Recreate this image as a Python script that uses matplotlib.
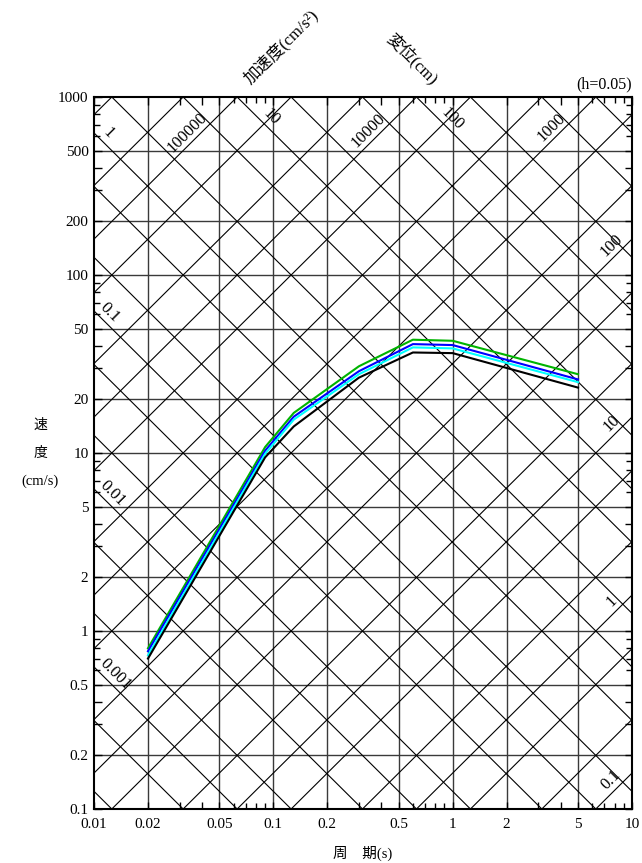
import numpy as np
import matplotlib
matplotlib.use("Agg")
import matplotlib.pyplot as plt
from matplotlib.ticker import FixedLocator, FixedFormatter

plt.rcParams['font.family'] = ['Liberation Serif', 'Noto Sans CJK JP']
plt.rcParams['axes.unicode_minus'] = False

# ---------------- data ----------------
periods = [0.02, 0.09, 0.13, 0.3, 0.6, 1.0, 5.0]
vel_green = [0.80, 10.8, 16.8, 30.7, 43.3, 42.7, 27.7]
vel_blue = [0.77, 10.3, 16.0, 28.8, 40.9, 40.4, 25.9]
vel_cyan = [0.73, 9.9, 15.4, 27.7, 39.2, 38.7, 25.0]
vel_black = [0.70, 9.45, 14.1, 26.5, 36.7, 36.4, 23.3]

x_ticks = [0.01, 0.02, 0.05, 0.1, 0.2, 0.5, 1, 2, 5, 10]
x_ticklabels = ['0.01', '0.02', '0.05', '0.1', '0.2', '0.5', '1', '2', '5', '10']
y_ticks = [0.1, 0.2, 0.5, 1, 2, 5, 10, 20, 50, 100, 200, 500, 1000]
y_ticklabels = ['0.1', '0.2', '0.5', '1', '2', '5', '10', '20', '50', '100', '200', '500', '1000']

disp_levels = [m * 10.0 ** k for k in range(-4, 4) for m in (1, 2, 5)]
acc_levels = [m * 10.0 ** k for k in range(-1, 6) for m in (1, 2, 5)]

disp_label_vals = [1, 10, 100, 0.1, 0.01, 0.001]
disp_label_text = ['1', '10', '100', '0.1', '0.01', '0.001']
disp_label_T = [0.01094, 0.0887, 0.91, 0.01123, 0.01166, 0.0120]

acc_label_vals = [100000, 10000, 1000, 100, 10, 1, 0.1]
acc_label_text = ['100000', '10000', '1000', '100', '10', '1', '0.1']
acc_label_T = [0.0361, 0.37, 3.87, 8.4, 8.4, 8.4, 8.4]

# ---------------- figure ----------------
W, H = 642, 863
fig = plt.figure(figsize=(W / 100, H / 100), dpi=100)
ax_l, ax_r, ax_t, ax_b = 94, 632, 97, 809
ax = fig.add_axes([ax_l / W, 1 - ax_b / H, (ax_r - ax_l) / W, (ax_b - ax_t) / H])
ax.set_xscale('log')
ax.set_yscale('log')
ax.set_xlim(0.01, 10)
ax.set_ylim(0.1, 1000)

# grid lines (1,2,5 multiples)
for t in x_ticks[1:-1]:
    ax.axvline(t, color='#3a3a3a', lw=1.0, zorder=1)
for v in y_ticks[1:-1]:
    ax.axhline(v, color='#3a3a3a', lw=1.0, zorder=1)

# diagonal lines
Tgrid = np.logspace(-2, 1, 200)
for d in disp_levels:
    ax.plot(Tgrid, 2 * np.pi * d / Tgrid, color='black', lw=0.8, zorder=1)
for a in acc_levels:
    ax.plot(Tgrid, a * Tgrid / (2 * np.pi), color='black', lw=0.8, zorder=1)

# diagonal labels
for val, txt, T in zip(disp_label_vals, disp_label_text, disp_label_T):
    ax.annotate(txt, xy=(T, 2 * np.pi * val / T), xytext=(7, 7), textcoords='offset pixels',
                rotation=-45, ha='center', va='center', rotation_mode='anchor',
                fontsize=12, zorder=3)
for val, txt, T in zip(acc_label_vals, acc_label_text, acc_label_T):
    ax.annotate(txt, xy=(T, val * T / (2 * np.pi)), xytext=(-7, 7), textcoords='offset pixels',
                rotation=45, ha='center', va='center', rotation_mode='anchor',
                fontsize=12, zorder=3)

# response curves
ax.plot(periods, vel_green, color='#00b400', lw=1.5, zorder=4)
ax.plot(periods, vel_blue, color='#0000ff', lw=1.5, zorder=4)
ax.plot(periods, vel_cyan, color='#00ffff', lw=1.5, zorder=4)
ax.plot(periods, vel_black, color='black', lw=1.5, zorder=4)

# ticks
def decade_ticks(lo, hi, mults):
    out = []
    for k in range(lo, hi):
        for m in mults:
            out.append(m * 10.0 ** k)
    return out

xmaj = x_ticks + decade_ticks(-2, 1, (3, 4))
xlab = x_ticklabels + [''] * (len(xmaj) - len(x_ticks))
ymaj = y_ticks + decade_ticks(-1, 3, (3, 4))
ylab = y_ticklabels + [''] * (len(ymaj) - len(y_ticks))
ax.xaxis.set_major_locator(FixedLocator(xmaj))
ax.xaxis.set_major_formatter(FixedFormatter(xlab))
ax.yaxis.set_major_locator(FixedLocator(ymaj))
ax.yaxis.set_major_formatter(FixedFormatter(ylab))
ax.xaxis.set_minor_locator(FixedLocator(decade_ticks(-2, 1, (6, 7, 8, 9))))
ax.yaxis.set_minor_locator(FixedLocator(decade_ticks(-1, 3, (6, 7, 8, 9))))
ax.tick_params(which='both', direction='in', top=True, right=True, width=1.0, color='black')
ax.tick_params(which='major', length=5.4, labelsize=11)
ax.tick_params(which='minor', length=4.0)
ax.tick_params(axis='x', which='major', pad=6.5)
ax.tick_params(axis='y', which='major', pad=4)
for s in ax.spines.values():
    s.set_linewidth(1.5)

# texts
fig.text(ax_r / W, 1 - 84 / H, '(h=0.05)', ha='right', va='center', fontsize=11.5)
fig.text(281 / W, 1 - 47 / H, '加速度(cm/s²)', ha='center', va='center', rotation=45, fontsize=12)
fig.text(412 / W, 1 - 59 / H, '変位(cm)', ha='center', va='center', rotation=-45, fontsize=12)
fig.text(40 / W, 1 - 425 / H, '速', ha='center', va='center', fontsize=10)
fig.text(40 / W, 1 - 453 / H, '度', ha='center', va='center', fontsize=10)
fig.text(40 / W, 1 - 481 / H, '(cm/s)', ha='center', va='center', fontsize=10.5)
fig.text(363 / W, 1 - 853 / H, '周　期(s)', ha='center', va='center', fontsize=10.5)

fig.savefig('out.png', dpi=100)
